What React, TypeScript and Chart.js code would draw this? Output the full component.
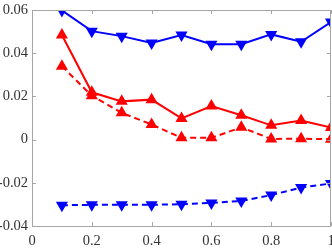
import React, { useEffect, useRef } from "react";
import { Chart, registerables } from "chart.js";

Chart.register(...registerables);

const xValues = [0.1, 0.2, 0.3, 0.4, 0.5, 0.6, 0.7, 0.8, 0.9, 1.0];
const blueSolid = [0.0598, 0.0502, 0.0479, 0.0447, 0.0484, 0.0442, 0.0442, 0.0487, 0.0453, 0.0544];
const redSolid = [0.0484, 0.0219, 0.0177, 0.0185, 0.0098, 0.0155, 0.0113, 0.0066, 0.0088, 0.0056];
const redDashed = [0.034, 0.0203, 0.0124, 0.007, 0.0008, 0.0008, 0.0057, 0.0003, 0.0004, 0.0002];
const blueDashed = [-0.0304, -0.0302, -0.0302, -0.0302, -0.0299, -0.0293, -0.0284, -0.0257, -0.0222, -0.0203];
const xTicks = [0, 0.2, 0.4, 0.6, 0.8, 1];
const yTicks = [-0.04, -0.02, 0, 0.02, 0.04, 0.06];

const toPts = (ys: number[]) => xValues.map((x, i) => ({ x, y: ys[i] }));
const fmt = (v: number) => String(Number(v.toFixed(2)));
const FONT = "14.5px \"Liberation Serif\", \"Times New Roman\", serif";

const boxPlugin = {
  id: "boxTicks",
  afterDraw(chart: any) {
    const { ctx, chartArea: a, scales } = chart;
    ctx.save();
    ctx.strokeStyle = "#a6a6a6";
    ctx.lineWidth = 1;
    ctx.beginPath();
    ctx.rect(Math.round(a.left) + 0.5, Math.round(a.top) + 0.5, Math.round(a.right - a.left) - 1, Math.round(a.bottom - a.top));
    const tl = 4;
    xTicks.forEach((v) => {
      const px = Math.round(scales.x.getPixelForValue(v)) + 0.5;
      ctx.moveTo(px, a.bottom);
      ctx.lineTo(px, a.bottom - tl);
      ctx.moveTo(px, a.top);
      ctx.lineTo(px, a.top + tl);
    });
    yTicks.forEach((v) => {
      const py = Math.round(scales.y.getPixelForValue(v)) + 0.5;
      ctx.moveTo(a.left, py);
      ctx.lineTo(a.left + tl, py);
      ctx.moveTo(a.right, py);
      ctx.lineTo(a.right - tl, py);
    });
    ctx.stroke();

    ctx.fillStyle = "#333333";
    ctx.font = FONT;
    ctx.textAlign = "center";
    ctx.textBaseline = "middle";
    xTicks.forEach((v) => {
      ctx.fillText(fmt(v), scales.x.getPixelForValue(v), a.bottom + 15);
    });
    ctx.textAlign = "right";
    yTicks.forEach((v) => {
      ctx.fillText(fmt(v), a.left - 4, scales.y.getPixelForValue(v));
    });
    ctx.restore();
  },
};

export default function App() {
  const ref = useRef<HTMLCanvasElement | null>(null);
  useEffect(() => {
    document.body.style.margin = "0";
    const canvas = ref.current!;
    const common = {
      borderWidth: 2,
      pointStyle: "triangle",
      pointRadius: 5,
    };
    const chart = new Chart(canvas, {
      type: "line",
      data: {
        datasets: [
          { ...common, data: toPts(blueSolid), borderColor: "#0000ff", backgroundColor: "#0000ff", rotation: 180 },
          { ...common, data: toPts(redSolid), borderColor: "#ff0000", backgroundColor: "#ff0000" },
          { ...common, data: toPts(redDashed), borderColor: "#ff0000", backgroundColor: "#ff0000", borderDash: [6, 4] },
          { ...common, data: toPts(blueDashed), borderColor: "#0000ff", backgroundColor: "#0000ff", borderDash: [6, 4], rotation: 180 },
        ],
      },
      options: {
        animation: false,
        responsive: false,
        maintainAspectRatio: false,
        layout: { autoPadding: false, padding: { top: 10, right: 1, left: 0, bottom: 0 } },
        plugins: { legend: { display: false }, tooltip: { enabled: false } },
        scales: {
          x: {
            type: "linear",
            min: 0,
            max: 1,
            afterFit: (s: any) => {
              s.height = 23;
            },
            grid: { display: false },
            border: { display: false },
            ticks: { display: false },
          },
          y: {
            type: "linear",
            min: -0.04,
            max: 0.06,
            afterFit: (s: any) => {
              s.width = 32;
            },
            grid: { display: false },
            border: { display: false },
            ticks: { display: false },
          },
        },
      },
      plugins: [boxPlugin],
    } as any);
    return () => chart.destroy();
  }, []);
  return <canvas ref={ref} width={332} height={249} style={{ display: "block" }} />;
}
